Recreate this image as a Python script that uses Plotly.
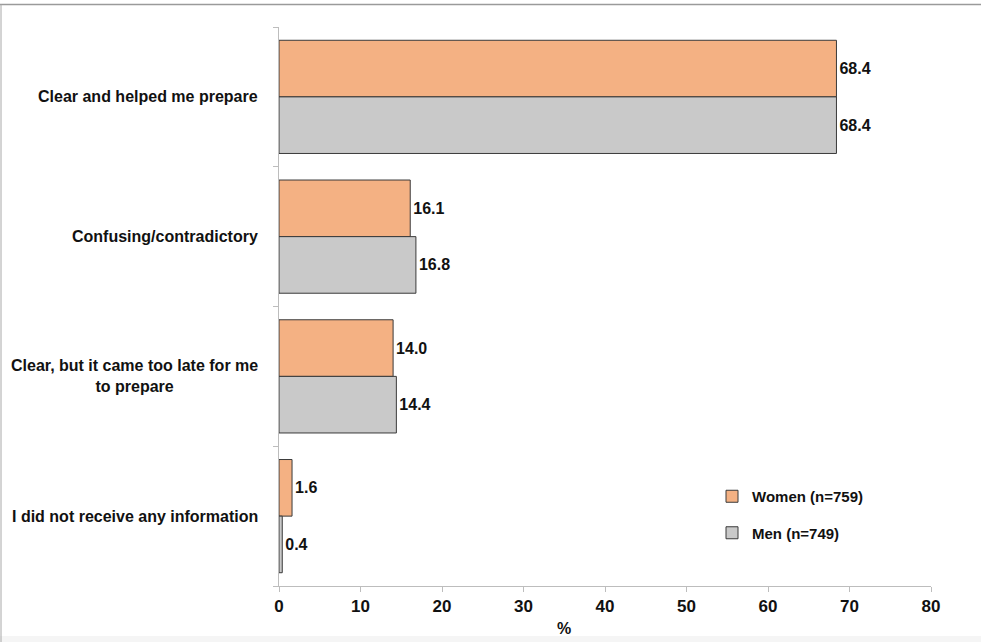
import plotly.graph_objects as go

# Survey responses: how the information received was perceived
categories = [
    "Clear and helped me prepare",
    "Confusing/contradictory",
    "Clear, but it came too late for me<br>to prepare",
    "I did not receive any information",
]
women = [68.4, 16.1, 14.0, 1.6]
men = [68.4, 16.8, 14.4, 0.4]
series_names = ["Women (n=759)", "Men (n=749)"]
x_ticks = [0, 10, 20, 30, 40, 50, 60, 70, 80]

FONT = "Liberation Sans, Arial, sans-serif"
INK = "#111111"
AXIS = "#bdbdbd"

W, H = 981, 642
L, R, T, B = 279, 50, 27, 56
plot_w = W - L - R
plot_h = H - T - B


def px_x(p):
    return (p - L) / plot_w


def px_y(p):
    return (H - B - p) / plot_h


idx = list(range(len(categories)))

fig = go.Figure()
for name, vals, color, grp in [
    (series_names[0], women, "#F4B183", "w"),
    (series_names[1], men, "#C9C9C9", "m"),
]:
    fig.add_trace(go.Bar(
        y=idx, x=vals, orientation="h", name=name, legendgroup=grp,
        marker=dict(color=color, line=dict(color="#3a3a3a", width=1)),
        text=[f"{v:.1f}" for v in vals], textposition="outside",
        constraintext="none",
        textfont=dict(family=FONT, size=16, color=INK, weight="bold"),
        cliponaxis=False,
    ))

annotations = [
    dict(x=0, y=i, xref="paper", yref="y", text=c, showarrow=False,
         xanchor="right", yanchor="middle", align="center", xshift=-19,
         font=dict(family=FONT, size=16, color=INK, weight="bold"))
    for i, c in zip(idx, categories)
]
annotations.append(dict(
    x=35, y=px_y(628), xref="x", yref="paper", text="%", showarrow=False,
    xanchor="center", yanchor="middle",
    font=dict(family=FONT, size=16, color=INK, weight="bold"),
))

shapes = [
    # outer frame lines
    dict(type="line", xref="paper", yref="paper", x0=px_x(0), x1=px_x(W),
         y0=px_y(4.5), y1=px_y(4.5), line=dict(color="#9a9a9a", width=1.5)),
    dict(type="line", xref="paper", yref="paper", x0=px_x(1), x1=px_x(1),
         y0=px_y(4.5), y1=px_y(H), line=dict(color="#a8a8a8", width=1)),
    dict(type="rect", xref="paper", yref="paper", x0=px_x(0), x1=px_x(W),
         y0=px_y(636), y1=px_y(H), line=dict(width=0), fillcolor="#f5f5f5",
         layer="below"),
]

fig.update_layout(
    width=W, height=H,
    margin=dict(l=L, r=R, t=T, b=B),
    paper_bgcolor="white", plot_bgcolor="white",
    barmode="group", bargap=0.19, bargroupgap=0,
    showlegend=True,
    legend=dict(
        x=px_x(712), y=px_y(480), xanchor="left", yanchor="top",
        traceorder="grouped", tracegroupgap=14,
        font=dict(family=FONT, size=15, color=INK, weight="bold"),
        itemwidth=30, bgcolor="rgba(0,0,0,0)",
    ),
    xaxis=dict(
        range=[0, 80], tickvals=x_ticks, ticktext=[str(t) for t in x_ticks],
        showgrid=False, zeroline=False, showline=True, linecolor=AXIS,
        linewidth=1, ticks="outside", ticklen=5, tickcolor=AXIS,
        tickfont=dict(family=FONT, size=17, color=INK, weight="bold"),
    ),
    yaxis=dict(
        type="linear", range=[3.5, -0.5], tickvals=[-0.5, 0.5, 1.5, 2.5, 3.5],
        ticktext=["", "", "", "", ""], showgrid=False, zeroline=False,
        showline=True, linecolor=AXIS, linewidth=1, ticks="outside",
        ticklen=5, tickcolor=AXIS,
    ),
    annotations=annotations,
    shapes=shapes,
)

fig.write_html("out.html")
